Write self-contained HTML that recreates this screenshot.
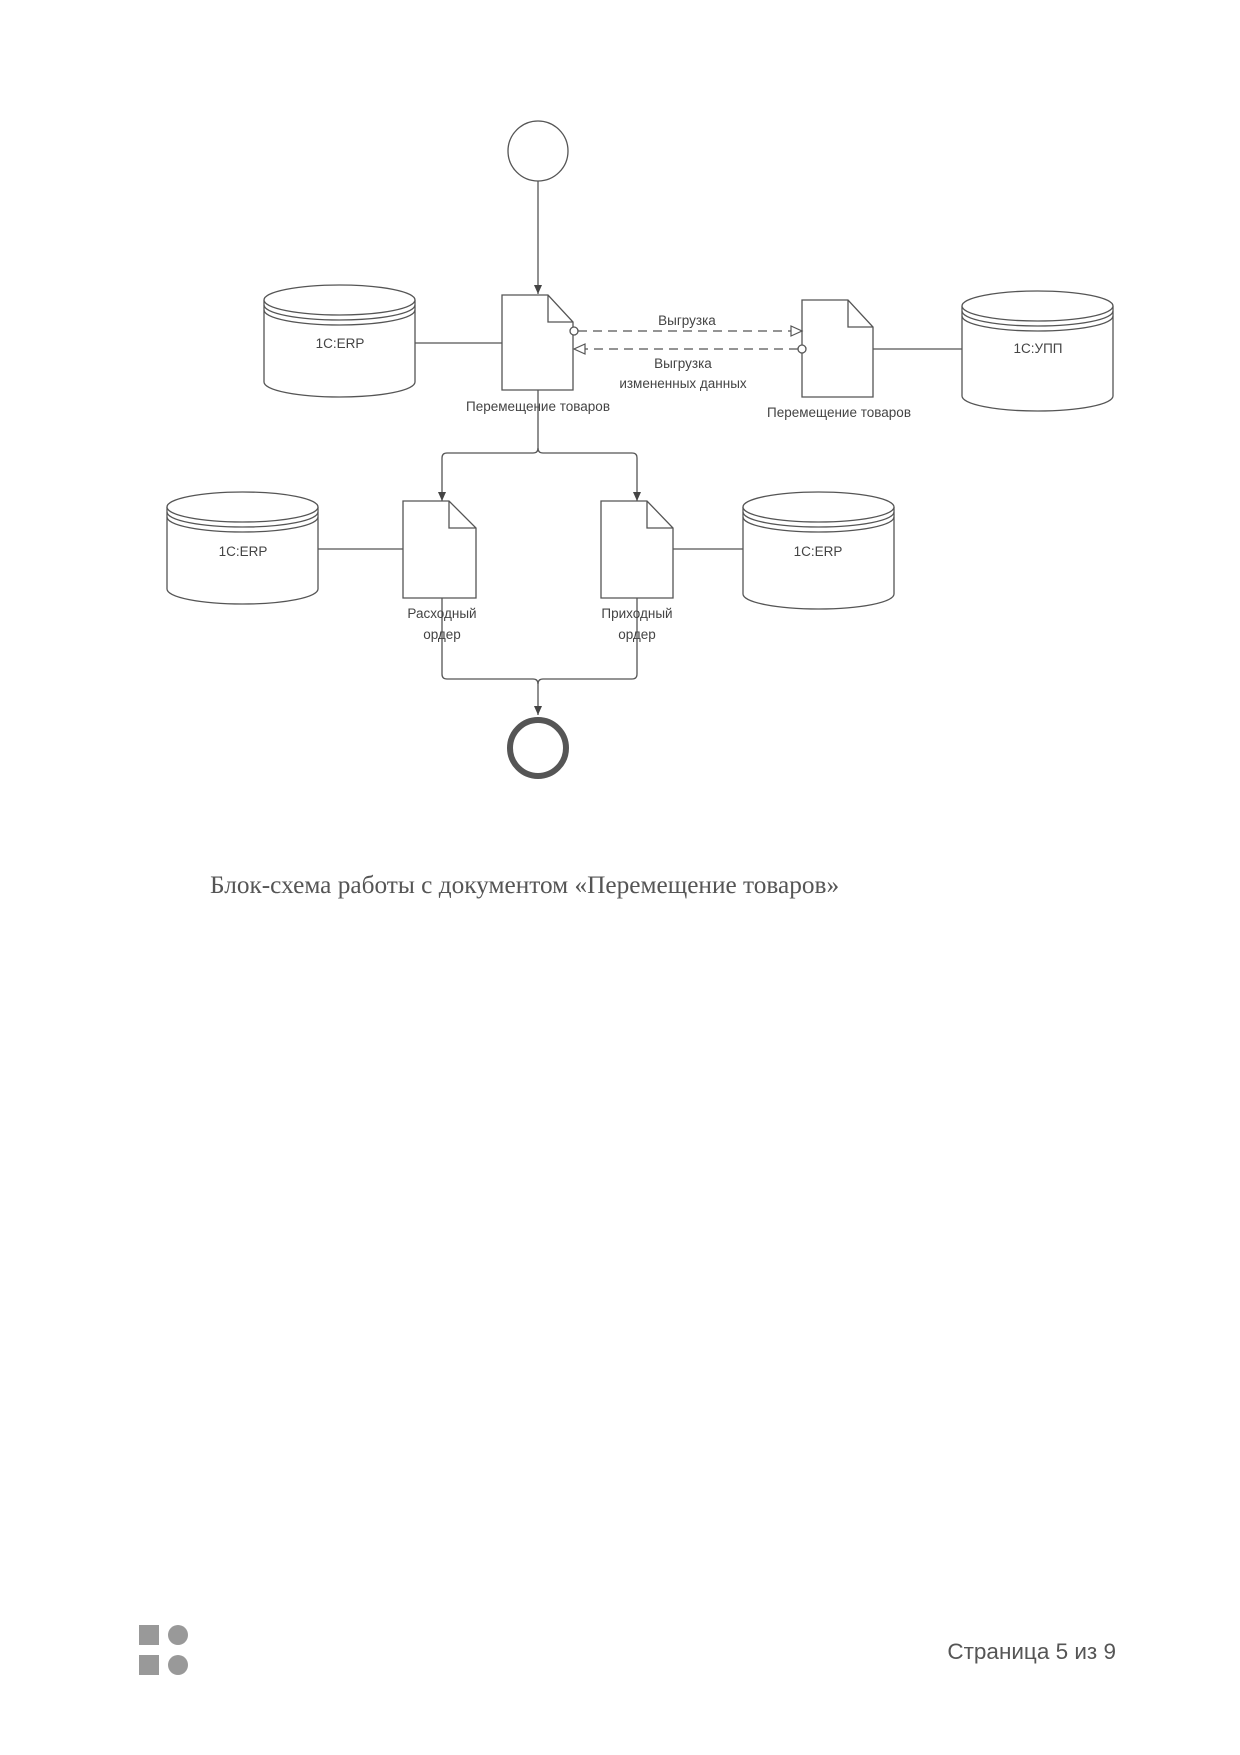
<!DOCTYPE html>
<html><head><meta charset="utf-8"><style>
html,body{margin:0;padding:0;background:#fff}
body{width:1240px;height:1755px;position:relative;overflow:hidden}
svg{position:absolute;left:0;top:0}
</style></head><body>
<svg width="1240" height="1755" viewBox="0 0 1240 1755" font-family="'Liberation Sans', sans-serif">
<defs>
<marker id="a" markerWidth="10" markerHeight="10" refX="9" refY="5" orient="auto" markerUnits="userSpaceOnUse"><path d="M0,1 L9,5 L0,9 Z" fill="#444"/></marker>
<marker id="h" markerWidth="14" markerHeight="12" refX="12" refY="6" orient="auto" markerUnits="userSpaceOnUse"><path d="M1,1 L12,6 L1,11 Z" fill="#fff" stroke="#555" stroke-width="1.2"/></marker>
</defs>
<g stroke="#555" stroke-width="1.3" fill="none">
<circle cx="538" cy="151" r="30" fill="#fff"/>
<line x1="538" y1="181" x2="538" y2="294" marker-end="url(#a)"/>
<g>
<path d="M264,300 L264,382 A75.5,15 0 0 0 415,382 L415,300" fill="#fff"/>
<ellipse cx="339.5" cy="300" rx="75.5" ry="15" fill="#fff"/>
<path d="M264,305 A75.5,15 0 0 0 415,305 M264,310 A75.5,15 0 0 0 415,310"/>
</g>
<g transform="translate(698,6)">
<path d="M264,300 L264,390 A75.5,15 0 0 0 415,390 L415,300" fill="#fff"/>
<ellipse cx="339.5" cy="300" rx="75.5" ry="15" fill="#fff"/>
<path d="M264,305 A75.5,15 0 0 0 415,305 M264,310 A75.5,15 0 0 0 415,310"/>
</g>
<g transform="translate(-97,207)">
<path d="M264,300 L264,382 A75.5,15 0 0 0 415,382 L415,300" fill="#fff"/>
<ellipse cx="339.5" cy="300" rx="75.5" ry="15" fill="#fff"/>
<path d="M264,305 A75.5,15 0 0 0 415,305 M264,310 A75.5,15 0 0 0 415,310"/>
</g>
<g transform="translate(479,207)">
<path d="M264,300 L264,387 A75.5,15 0 0 0 415,387 L415,300" fill="#fff"/>
<ellipse cx="339.5" cy="300" rx="75.5" ry="15" fill="#fff"/>
<path d="M264,305 A75.5,15 0 0 0 415,305 M264,310 A75.5,15 0 0 0 415,310"/>
</g>
<line x1="415" y1="343" x2="502" y2="343"/>
<line x1="873" y1="349" x2="962" y2="349"/>
<line x1="318" y1="549" x2="403" y2="549"/>
<line x1="673" y1="549" x2="743" y2="549"/>
<path d="M502,295 L548,295 L573,322 L573,390 L502,390 Z M548,295 L548,322 L573,322" fill="#fff"/>
<path d="M802,300 L848,300 L873,327 L873,397 L802,397 Z M848,300 L848,327 L873,327" fill="#fff"/>
<path d="M403,501 L449,501 L476,528 L476,598 L403,598 Z M449,501 L449,528 L476,528" fill="#fff"/>
<path d="M601,501 L647,501 L673,528 L673,598 L601,598 Z M647,501 L647,528 L673,528" fill="#fff"/>
<line x1="578" y1="331" x2="802" y2="331" stroke-dasharray="9,6" marker-end="url(#h)"/>
<circle cx="574" cy="331" r="4" fill="#fff"/>
<line x1="798" y1="349" x2="574" y2="349" stroke-dasharray="9,6" marker-end="url(#h)"/>
<circle cx="802" cy="349" r="4" fill="#fff"/>
<path d="M538,390 L538,448 Q538,453 533,453 L447,453 Q442,453 442,458 L442,501" marker-end="url(#a)"/>
<path d="M538,448 Q538,453 543,453 L632,453 Q637,453 637,458 L637,501" marker-end="url(#a)"/>
<path d="M442,598 L442,674 Q442,679 447,679 L533,679 Q538,679 538,684 L538,715" marker-end="url(#a)"/>
<path d="M637,598 L637,674 Q637,679 632,679 L543,679 Q538,679 538,684"/>
</g>
<circle cx="538" cy="748" r="28" fill="#fff" stroke="#555" stroke-width="6"/>
<g font-size="13.5" fill="#444" text-anchor="middle" font-family="'Liberation Sans', sans-serif">
<text x="340" y="348">1C:ERP</text>
<text x="1038" y="353">1C:УПП</text>
<text x="243" y="556">1C:ERP</text>
<text x="818" y="556">1C:ERP</text>
<text x="538" y="411">Перемещение товаров</text>
<text x="839" y="417">Перемещение товаров</text>
<text x="687" y="325">Выгрузка</text>
<text x="683" y="368">Выгрузка</text>
<text x="683" y="388">измененных данных</text>
<text x="442" y="618">Расходный</text>
<text x="442" y="639">ордер</text>
<text x="637" y="618">Приходный</text>
<text x="637" y="639">ордер</text>
</g>
<text x="210" y="893" font-family="'Liberation Serif', serif" font-size="25.3" fill="#555">Блок-схема работы с документом «Перемещение товаров»</text>
<g fill="#999">
<rect x="139" y="1625" width="20" height="20"/>
<circle cx="178" cy="1635" r="10"/>
<rect x="139" y="1655" width="20" height="20"/>
<circle cx="178" cy="1665" r="10"/>
</g>
<text x="1116" y="1659" text-anchor="end" font-size="22.5" fill="#555">Страница 5 из 9</text>
</svg>
</body></html>
